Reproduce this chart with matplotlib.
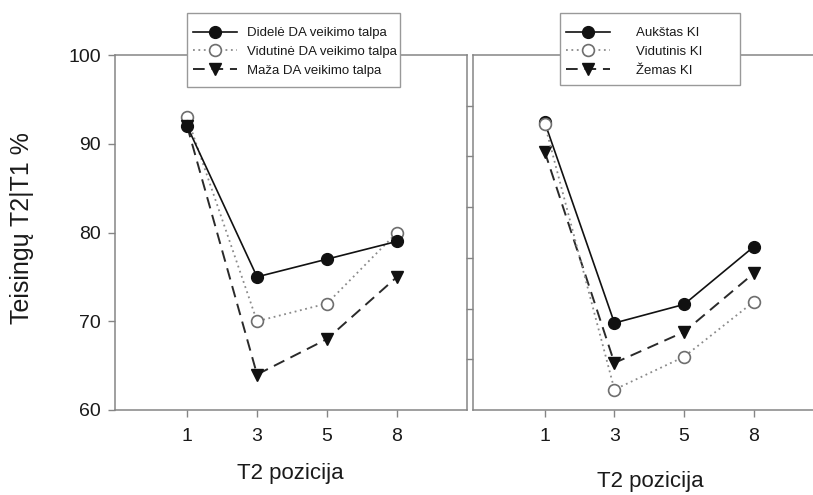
import matplotlib
matplotlib.use("Agg")
import matplotlib.pyplot as plt
from matplotlib.patches import Rectangle
import numpy as np

plt.rcParams["font.family"] = ["Liberation Sans", "DejaVu Sans"]

# T2 pozicijos (x ašis)
positions = ["1", "3", "5", "8"]

# kairysis grafikas: pagal DA veikimo talpą
didele = [92.0, 75.0, 77.0, 79.0]
vidutine = [93.0, 70.0, 72.0, 80.0]
maza = [92.0, 64.0, 68.0, 75.0]
left_labels = ["Didelė DA veikimo talpa", "Vidutinė DA veikimo talpa", "Maža DA veikimo talpa"]

# dešinysis grafikas: pagal KI
aukstas = [92.4, 69.8, 71.9, 78.4]
vidutinis = [92.2, 62.3, 66.0, 72.2]
zemas = [89.1, 65.3, 68.8, 75.4]
right_labels = ["Aukštas KI", "Vidutinis KI", "Žemas KI"]

W, H = 813, 495
SPINE = "#858585"
TEXT = "#1a1a1a"

high = dict(color="#111111", lw=1.2, ls="-", marker="o", ms=8.5,
            mfc="#111111", mec="#111111")
mid = dict(color="#8a8a8a", lw=1.3, ls=(0, (1, 2)), marker="o", ms=8.5,
           mfc="white", mec="#6e6e6e", mew=1.2)
low = dict(color="#2a2a2a", lw=1.4, ls=(0, (6, 3.5)), marker="v", ms=8.5,
           mfc="#111111", mec="#111111")


def px_box(x0, y0, x1, y1):
    return [x0 / W, 1 - y1 / H, (x1 - x0) / W, (y1 - y0) / H]


def style_axes(ax):
    for s in ax.spines.values():
        s.set_color(SPINE)
        s.set_linewidth(1.1)
    ax.tick_params(direction="out", color=SPINE, length=5, width=1,
                   labelsize=14, labelcolor=TEXT)
    ax.tick_params(axis="x", pad=8)
    ax.tick_params(axis="y", pad=5)
    ax.set_ylim(60, 100)
    ax.set_xticks(np.arange(len(positions)))
    ax.set_xticklabels(positions)


def add_legend(ax, handles, labels, frame, textpad):
    # baltas rėmelis atskirai, kad būtų fiksuoto dydžio
    x0, y0, x1, y1 = frame
    ax.add_patch(Rectangle((x0 / W, 1 - y1 / H), (x1 - x0) / W,
                           (y1 - y0) / H, transform=fig.transFigure,
                           facecolor="white", edgecolor="#999999",
                           lw=1.0, zorder=9, clip_on=False))
    leg = ax.legend(handles, labels, loc="upper left",
                    bbox_to_anchor=((x0 + 2) / W, 1 - (y0 + 10) / H),
                    bbox_transform=fig.transFigure, fontsize=9.5,
                    frameon=False, handlelength=3.3,
                    handletextpad=textpad, labelspacing=0.5, borderpad=0.3,
                    borderaxespad=0)
    leg.set_zorder(10)
    for t in leg.get_texts():
        t.set_color(TEXT)
    return leg


fig = plt.figure(figsize=(W / 100, H / 100), dpi=100)
x = np.arange(len(positions))

# kairysis skydelis
ax1 = fig.add_axes(px_box(115, 55, 467, 410))
style_axes(ax1)
ax1.set_xlim(-1.03, 4.0)
ax1.set_yticks([60, 70, 80, 90, 100])
l_mid, = ax1.plot(x, vidutine, zorder=2, **mid)
l_low, = ax1.plot(x, maza, zorder=3, **low)
l_high, = ax1.plot(x, didele, zorder=4, **high)
add_legend(ax1, [l_high, l_mid, l_low], left_labels, (187, 13, 400, 87), 0.8)

# dešinysis skydelis
ax2 = fig.add_axes(px_box(473, 55, 813, 410))
style_axes(ax2)
ax2.set_xlim(-1.03, 3.85)
ax2.spines["right"].set_visible(False)
ax2.set_yticks(np.linspace(60, 100, 8)[1:-1])
ax2.set_yticklabels([])
r_high, = ax2.plot(x, aukstas, zorder=2, **high)
r_low, = ax2.plot(x, zemas, zorder=3, **low)
r_mid, = ax2.plot(x, vidutinis, zorder=4, **mid)
add_legend(ax2, [r_high, r_mid, r_low], right_labels, (560, 13, 740, 85), 2.0)

fig.text(22 / W, 1 - 228 / H, "Teisingų T2|T1 %", rotation=90,
         ha="center", va="center", fontsize=18, color=TEXT)
fig.text(290 / W, 1 - 474 / H, "T2 pozicija", ha="center", va="center",
         fontsize=16, color=TEXT)
fig.text(650 / W, 1 - 482 / H, "T2 pozicija", ha="center", va="center",
         fontsize=16, color=TEXT)

fig.savefig("out.png", dpi=100, facecolor="white")
